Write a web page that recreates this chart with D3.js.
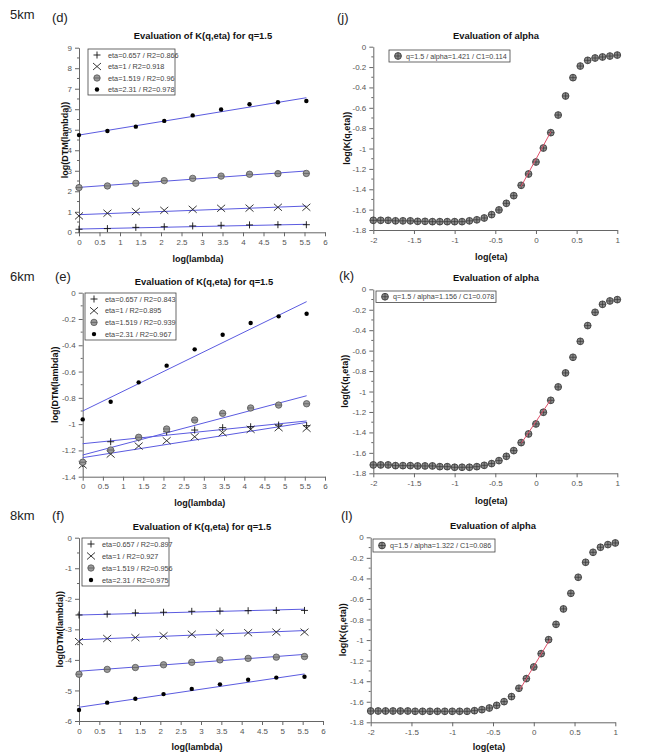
<!DOCTYPE html>
<html><head><meta charset="utf-8">
<script src="https://cdn.jsdelivr.net/npm/d3@7"></script>
<style>
html,body{margin:0;padding:0;background:#fff;}
svg{display:block;font-family:"Liberation Sans",Arial,sans-serif;}
</style></head>
<body><svg id="c" width="659" height="753"></svg>
<script>
// ---------- DATA ----------
const lambdaLog = [0, 0.693, 1.386, 2.079, 2.773, 3.466, 4.159, 4.852, 5.545];
const etaNames = ["eta=0.657", "eta=1", "eta=1.519", "eta=2.31"];
const xTicksLambda = [0, 0.5, 1, 1.5, 2, 2.5, 3, 3.5, 4, 4.5, 5, 5.5, 6];
const xTicksEta = [-2, -1.5, -1, -0.5, 0, 0.5, 1];

// 5 km
const r2_5km = ["0.866", "0.918", "0.96", "0.978"];
const dtm5_eta0657 = [0.15, 0.18, 0.24, 0.27, 0.31, 0.34, 0.36, 0.37, 0.37];
const dtm5_eta1    = [0.80, 0.93, 1.01, 1.07, 1.12, 1.17, 1.18, 1.22, 1.22];
const dtm5_eta1519 = [2.18, 2.26, 2.39, 2.52, 2.63, 2.74, 2.83, 2.86, 2.87];
const dtm5_eta231  = [4.74, 4.94, 5.15, 5.43, 5.70, 5.99, 6.24, 6.34, 6.40];
const fit5_start = [0.16, 0.86, 2.19, 4.74];
const fit5_end   = [0.39, 1.28, 2.99, 6.56];
const yTicks5 = [0, 1, 2, 3, 4, 5, 6, 7, 8, 9];

// 6 km
const r2_6km = ["0.843", "0.895", "0.939", "0.967"];
const dtm6_eta0657 = [-1.30, -1.134, -1.105, -1.058, -1.045, -1.027, -1.02, -1.007, -1.012];
const dtm6_eta1    = [-1.31, -1.228, -1.167, -1.126, -1.096, -1.065, -1.04, -1.027, -1.032];
const dtm6_eta1519 = [-1.29, -1.197, -1.10, -1.037, -0.969, -0.918, -0.877, -0.855, -0.845];
const dtm6_eta231  = [-0.964, -0.83, -0.682, -0.555, -0.431, -0.32, -0.231, -0.18, -0.16];
const fit6_start = [-1.149, -1.255, -1.235, -0.90];
const fit6_end   = [-0.976, -0.987, -0.784, -0.068];
const yTicks6 = [0, -0.2, -0.4, -0.6, -0.8, -1, -1.2, -1.4];

// 8 km
const r2_8km = ["0.897", "0.927", "0.956", "0.975"];
const dtm8_eta0657 = [-2.53, -2.50, -2.46, -2.44, -2.41, -2.40, -2.39, -2.38, -2.38];
const dtm8_eta1    = [-3.40, -3.30, -3.27, -3.21, -3.16, -3.12, -3.11, -3.09, -3.09];
const dtm8_eta1519 = [-4.47, -4.31, -4.25, -4.16, -4.08, -4.00, -3.95, -3.91, -3.89];
const dtm8_eta231  = [-5.64, -5.40, -5.27, -5.12, -4.95, -4.80, -4.65, -4.58, -4.55];
const fit8_start = [-2.53, -3.34, -4.37, -5.55];
const fit8_end   = [-2.34, -3.04, -3.82, -4.46];
const yTicks8 = [0, -1, -2, -3, -4, -5, -6];

// alpha panels
const etaLog = [-2, -1.909, -1.818, -1.727, -1.636, -1.545, -1.455, -1.364, -1.273, -1.182, -1.091,
  -1, -0.909, -0.818, -0.727, -0.636, -0.545, -0.455, -0.364, -0.273, -0.182, -0.091,
  0, 0.091, 0.182, 0.273, 0.364, 0.455, 0.545, 0.636, 0.727, 0.818, 0.909, 1];
const yTicksK = [0, -0.2, -0.4, -0.6, -0.8, -1, -1.2, -1.4, -1.6, -1.8];

const kq_5km = [-1.705, -1.705, -1.705, -1.71, -1.71, -1.71, -1.715, -1.715, -1.718, -1.718, -1.718,
  -1.718, -1.718, -1.71, -1.70, -1.682, -1.649, -1.603, -1.538, -1.463, -1.361, -1.25,
  -1.132, -0.995, -0.844, -0.671, -0.484, -0.304, -0.19, -0.134, -0.111, -0.101, -0.092, -0.082];
const alphaFit5 = [-0.184, -1.374, 0.184, -0.834];
const alphaLegend5 = "q=1.5 / alpha=1.421 / C1=0.114";

const kq_6km = [-1.718, -1.718, -1.718, -1.725, -1.725, -1.725, -1.728, -1.728, -1.728, -1.735, -1.735,
  -1.741, -1.741, -1.741, -1.735, -1.722, -1.705, -1.676, -1.634, -1.578, -1.50, -1.415,
  -1.317, -1.203, -1.086, -0.955, -0.818, -0.665, -0.509, -0.355, -0.225, -0.147, -0.114, -0.101];
const alphaFit6 = [-0.18, -1.506, 0.174, -1.089];
const alphaLegend6 = "q=1.5 / alpha=1.156 / C1=0.078";

const kq_8km = [-1.69, -1.69, -1.69, -1.69, -1.69, -1.69, -1.693, -1.693, -1.693, -1.693, -1.693,
  -1.693, -1.693, -1.693, -1.687, -1.677, -1.661, -1.635, -1.599, -1.55, -1.469, -1.375,
  -1.262, -1.132, -0.996, -0.847, -0.697, -0.545, -0.389, -0.243, -0.146, -0.097, -0.071, -0.055];
const alphaFit8 = [-0.169, -1.479, 0.199, -0.993];
const alphaLegend8 = "q=1.5 / alpha=1.322 / C1=0.086";

// ---------- DRAWING ----------
const svg = d3.select("#c");
const FONT = '"Liberation Sans", Arial, sans-serif';
const fmt = v => String(+(+v).toFixed(2));
const BLUE = "#5b5be0";

function marker(g, type, cx, cy) {
  if (type === "plus") {
    g.append("path").attr("d", `M${cx-3.5},${cy}H${cx+3.5}M${cx},${cy-3.5}V${cy+3.5}`)
      .attr("stroke", "#111").attr("stroke-width", 0.9).attr("fill", "none");
  } else if (type === "cross") {
    g.append("path").attr("d", `M${cx-4},${cy-3.5}L${cx+4},${cy+3.5}M${cx-4},${cy+3.5}L${cx+4},${cy-3.5}`)
      .attr("stroke", "#222").attr("stroke-width", 0.9).attr("fill", "none");
  } else if (type === "circ") {
    g.append("circle").attr("cx", cx).attr("cy", cy).attr("r", 3.2)
      .attr("fill", "#9a9a9a").attr("stroke", "#555").attr("stroke-width", 0.8);
    g.append("path").attr("d", `M${cx-3.2},${cy}H${cx+3.2}`)
      .attr("stroke", "#555").attr("stroke-width", 0.7);
  } else if (type === "oplus") {
    g.append("circle").attr("cx", cx).attr("cy", cy).attr("r", 3.4)
      .attr("fill", "#8a8a8a").attr("stroke", "#333").attr("stroke-width", 0.8);
    g.append("path").attr("d", `M${cx-3.4},${cy}H${cx+3.4}M${cx},${cy-3.4}V${cy+3.4}`)
      .attr("stroke", "#333").attr("stroke-width", 0.7);
  } else {
    g.append("circle").attr("cx", cx).attr("cy", cy).attr("r", 2.2).attr("fill", "#000");
  }
}

function frame(cfg) {
  const x = d3.scaleLinear().domain(cfg.xd).range([cfg.x0, cfg.x1]);
  const y = d3.scaleLinear().domain(cfg.yd).range([cfg.yb, cfg.yt]);
  const g = svg.append("g");
  const step = cfg.yTicks[0] - cfg.yTicks[1];
  const minors = cfg.yTicks.slice(0, -1).map(v => v - step / 2);
  const ya = g.append("g").attr("transform", `translate(${cfg.x0},0)`)
    .call(d3.axisLeft(y).tickValues(cfg.yTicks).tickSize(4).tickSizeOuter(0).tickFormat(fmt).tickPadding(3));
  ya.append("g").selectAll("line").data(minors).join("line")
    .attr("x1", -2).attr("x2", 0).attr("y1", d => y(d)).attr("y2", d => y(d)).attr("stroke", "#666");
  const xa = g.append("g").attr("transform", `translate(0,${cfg.yb})`)
    .call(d3.axisBottom(x).tickValues(cfg.xTicks).tickSize(4).tickSizeOuter(0).tickFormat(fmt).tickPadding(3));
  [ya, xa].forEach(a => {
    a.select(".domain").attr("stroke", "#666");
    a.selectAll(".tick line").attr("stroke", "#666");
    a.selectAll(".tick text").attr("fill", "#555").style("font-family", FONT).style("font-size", "8px");
  });
  g.append("text").attr("x", cfg.tx).attr("y", cfg.ty).attr("text-anchor", "middle")
    .style("font-family", FONT).style("font-size", "9.4px").style("font-weight", "bold").attr("fill", "#111")
    .text(cfg.title);
  g.append("text").attr("x", (cfg.x0 + cfg.x1) / 2 - 4).attr("y", cfg.xly).attr("text-anchor", "middle")
    .style("font-family", FONT).style("font-size", "9px").style("font-weight", "bold").attr("fill", "#111")
    .text(cfg.xlabel);
  g.append("text").attr("transform", `translate(${cfg.ylx},${(cfg.yt + cfg.yb) / 2}) rotate(-90)`)
    .attr("text-anchor", "middle").attr("dy", "0.35em")
    .style("font-family", FONT).style("font-size", "9px").style("font-weight", "bold").attr("fill", "#111")
    .text(cfg.ylabel);
  return { g, x, y };
}

function dtmPanel(cfg) {
  const { g, x, y } = frame(cfg);
  const types = ["plus", "cross", "circ", "dot"];
  cfg.series.forEach((s, i) => {
    g.append("line").attr("x1", x(lambdaLog[0])).attr("x2", x(lambdaLog[lambdaLog.length - 1]))
      .attr("y1", y(cfg.fitStart[i])).attr("y2", y(cfg.fitEnd[i]))
      .attr("stroke", BLUE).attr("stroke-width", 1);
  });
  cfg.series.forEach((s, i) => {
    s.forEach((v, j) => marker(g, types[i], x(lambdaLog[j]), y(v)));
  });
  const L = cfg.legend;
  g.append("rect").attr("x", L.x).attr("y", L.y).attr("width", L.w).attr("height", L.h)
    .attr("fill", "#fff").attr("stroke", "#444").attr("stroke-width", 0.8);
  etaNames.forEach((n, i) => {
    const yy = L.y + 6 + i * L.dy;
    marker(g, types[i], L.x + 9, yy);
    g.append("text").attr("x", L.x + 20).attr("y", yy).attr("dy", "0.35em")
      .style("font-family", FONT).style("font-size", "7.3px").attr("fill", "#444")
      .text(`${n} / R2=${cfg.r2[i]}`);
  });
}

function alphaPanel(cfg) {
  const { g, x, y } = frame(cfg);
  cfg.values.forEach((v, j) => marker(g, "oplus", x(etaLog[j]), y(v)));
  const f = cfg.fit;
  g.append("line").attr("x1", x(f[0])).attr("y1", y(f[1])).attr("x2", x(f[2])).attr("y2", y(f[3]))
    .attr("stroke", "#e0506a").attr("stroke-width", 1);
  const L = cfg.legend;
  g.append("rect").attr("x", L.x).attr("y", L.y).attr("width", L.w).attr("height", L.h)
    .attr("fill", "#fff").attr("stroke", "#444").attr("stroke-width", 0.8);
  marker(g, "oplus", L.x + 9, L.y + L.h / 2);
  g.append("text").attr("x", L.x + 17).attr("y", L.y + L.h / 2).attr("dy", "0.35em")
    .style("font-family", FONT).style("font-size", "7.2px").attr("fill", "#444").text(cfg.legendText);
}

function tag(x, y, t) {
  svg.append("text").attr("x", x).attr("y", y).style("font-family", FONT)
    .style("font-size", "13px").attr("fill", "#222").text(t);
}

const titleL = "Evaluation of K(q,eta) for q=1.5";
const titleR = "Evaluation of alpha";

dtmPanel({ x0: 79, x1: 325, yt: 47.7, yb: 232.3, xd: [0, 6], yd: [0, 9], xTicks: xTicksLambda, yTicks: yTicks5.slice().reverse(),
  tx: 203, ty: 39, xly: 262, ylx: 65, title: titleL, xlabel: "log(lambda)", ylabel: "log(DTM(lambda))",
  series: [dtm5_eta0657, dtm5_eta1, dtm5_eta1519, dtm5_eta231], fitStart: fit5_start, fitEnd: fit5_end, r2: r2_5km,
  legend: { x: 88, y: 49, w: 87, h: 46, dy: 11.5 } });

dtmPanel({ x0: 82.7, x1: 325, yt: 292.7, yb: 476.7, xd: [0, 6], yd: [-1.4, 0], xTicks: xTicksLambda, yTicks: yTicks6,
  tx: 204, ty: 285, xly: 506, ylx: 55, title: titleL, xlabel: "log(lambda)", ylabel: "log(DTM(lambda))",
  series: [dtm6_eta0657, dtm6_eta1, dtm6_eta1519, dtm6_eta231], fitStart: fit6_start, fitEnd: fit6_end, r2: r2_6km,
  legend: { x: 85, y: 293, w: 91, h: 47, dy: 11.7 } });

dtmPanel({ x0: 79, x1: 323, yt: 537.7, yb: 721, xd: [0, 6], yd: [-6, 0], xTicks: xTicksLambda, yTicks: yTicks8,
  tx: 202, ty: 530, xly: 750, ylx: 60, title: titleL, xlabel: "log(lambda)", ylabel: "log(DTM(lambda))",
  series: [dtm8_eta0657, dtm8_eta1, dtm8_eta1519, dtm8_eta231], fitStart: fit8_start, fitEnd: fit8_end, r2: r2_8km,
  legend: { x: 82, y: 538, w: 87, h: 48, dy: 12 } });

alphaPanel({ x0: 373.3, x1: 617.3, yt: 46.7, yb: 230, xd: [-2, 1], yd: [-1.8, 0], xTicks: xTicksEta, yTicks: yTicksK,
  tx: 496, ty: 39, xly: 260, ylx: 347, title: titleR, xlabel: "log(eta)", ylabel: "log(K(q,eta))",
  values: kq_5km, fit: alphaFit5, legendText: alphaLegend5, legend: { x: 389, y: 50, w: 121, h: 12 } });

alphaPanel({ x0: 373.3, x1: 617.3, yt: 289.3, yb: 473.3, xd: [-2, 1], yd: [-1.8, 0], xTicks: xTicksEta, yTicks: yTicksK,
  tx: 496, ty: 281, xly: 504, ylx: 345, title: titleR, xlabel: "log(eta)", ylabel: "log(K(q,eta))",
  values: kq_6km, fit: alphaFit6, legendText: alphaLegend6, legend: { x: 376, y: 291, w: 120, h: 11.5 } });

alphaPanel({ x0: 370.7, x1: 615.3, yt: 537.3, yb: 722.3, xd: [-2, 1], yd: [-1.8, 0], xTicks: xTicksEta, yTicks: yTicksK,
  tx: 493, ty: 529, xly: 750, ylx: 343, title: titleR, xlabel: "log(eta)", ylabel: "log(K(q,eta))",
  values: kq_8km, fit: alphaFit8, legendText: alphaLegend8, legend: { x: 373, y: 539, w: 122, h: 13 } });

tag(10, 19, "5km"); tag(52, 22, "(d)");
tag(10, 281, "6km"); tag(55, 281, "(e)");
tag(10, 520, "8km"); tag(52, 520, "(f)");
tag(337, 22, "(j)"); tag(339, 280, "(k)"); tag(341, 520, "(l)");
</script></body></html>
